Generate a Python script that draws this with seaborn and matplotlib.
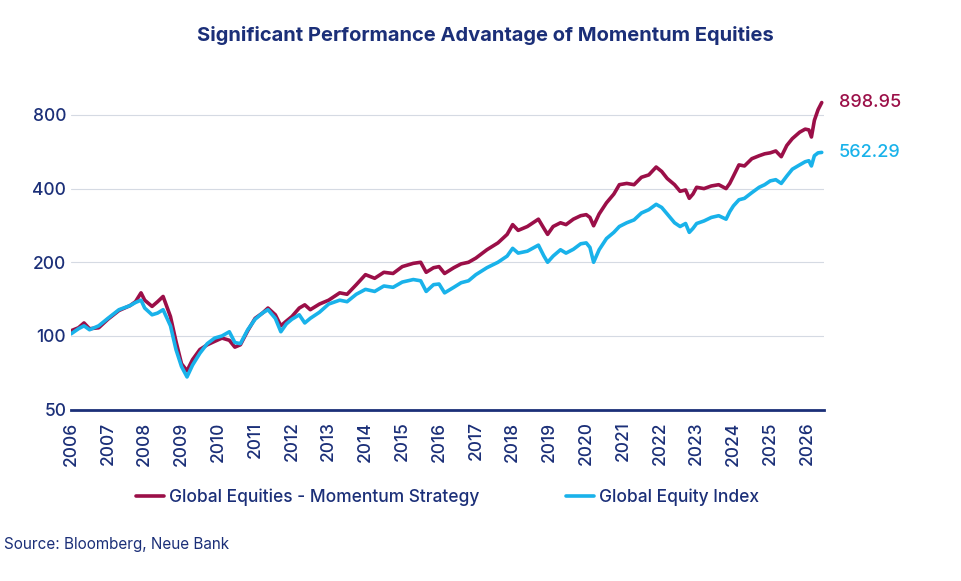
import pandas as pd
import numpy as np
import matplotlib.pyplot as plt
from matplotlib.ticker import FixedLocator, NullLocator, FuncFormatter
import seaborn as sns


def plot_momentum_performance(output_path='out.png'):
    """
    Plot the indexed performance of momentum equities versus the global equity index
    Log scale y-axis, yearly x ticks, end values annotated at the right edge
    """
    sns.set_style('white')
    plt.rcParams['font.family'] = ['Inter', 'DejaVu Sans']

    navy = '#1B2F78'
    red = '#9B0F48'
    blue = '#19B2EA'

    # Approximate values (year, momentum, index)
    points = [
        (2006.0, 105, 102), (2006.2, 108, 107), (2006.35, 113, 110), (2006.5, 107, 106),
        (2006.75, 108, 110), (2007.0, 117, 118), (2007.3, 127, 128), (2007.6, 133, 133),
        (2007.75, 138, 137), (2007.9, 150, 140), (2008.0, 140, 130), (2008.2, 132, 122),
        (2008.35, 138, 124), (2008.5, 145, 128), (2008.7, 120, 110), (2008.85, 95, 88),
        (2009.0, 77, 75), (2009.15, 72, 68), (2009.3, 80, 76), (2009.5, 88, 85),
        (2009.7, 92, 93), (2009.9, 95, 98), (2010.1, 98, 100), (2010.3, 96, 104),
        (2010.45, 90, 94), (2010.6, 92, 93), (2010.8, 105, 106), (2011.0, 118, 117),
        (2011.2, 124, 124), (2011.35, 130, 128), (2011.55, 122, 118), (2011.7, 110, 104),
        (2011.85, 115, 112), (2012.0, 120, 117), (2012.2, 130, 122), (2012.35, 134, 113),
        (2012.5, 128, 118), (2012.75, 135, 125), (2013.0, 140, 135), (2013.3, 150, 140),
        (2013.5, 148, 138), (2013.75, 162, 148), (2014.0, 178, 155), (2014.25, 172, 152),
        (2014.5, 182, 160), (2014.75, 180, 158), (2015.0, 192, 166), (2015.3, 198, 170),
        (2015.5, 200, 168), (2015.65, 182, 152), (2015.85, 190, 162), (2016.0, 192, 163),
        (2016.15, 180, 150), (2016.4, 190, 158), (2016.6, 197, 165), (2016.8, 200, 168),
        (2017.0, 208, 178), (2017.3, 225, 190), (2017.6, 240, 200), (2017.85, 260, 212),
        (2018.0, 285, 228), (2018.15, 270, 218), (2018.4, 280, 222), (2018.7, 300, 235),
        (2018.85, 275, 212), (2018.95, 260, 200), (2019.1, 280, 212), (2019.3, 290, 225),
        (2019.45, 285, 218), (2019.65, 300, 226), (2019.85, 310, 238), (2020.0, 313, 240),
        (2020.1, 305, 230), (2020.2, 282, 200), (2020.35, 315, 225), (2020.55, 350, 250),
        (2020.75, 380, 265), (2020.9, 415, 280), (2021.1, 420, 290), (2021.3, 415, 298),
        (2021.5, 445, 318), (2021.7, 455, 328), (2021.9, 490, 345), (2022.05, 470, 335),
        (2022.2, 440, 315), (2022.4, 415, 290), (2022.55, 390, 280), (2022.7, 395, 288),
        (2022.8, 365, 265), (2022.9, 380, 275), (2023.0, 405, 288), (2023.2, 400, 295),
        (2023.4, 410, 305), (2023.6, 415, 310), (2023.8, 400, 300), (2023.9, 420, 322),
        (2024.0, 450, 340), (2024.15, 500, 360), (2024.3, 495, 365), (2024.5, 530, 385),
        (2024.7, 545, 405), (2024.85, 555, 415), (2025.0, 560, 430), (2025.15, 570, 435),
        (2025.3, 540, 420), (2025.45, 600, 450), (2025.6, 640, 480), (2025.8, 680, 500),
        (2025.95, 700, 515), (2026.05, 695, 520), (2026.12, 650, 495), (2026.2, 760, 545),
        (2026.3, 840, 560), (2026.4, 898.95, 562.29),
    ]
    df = pd.DataFrame(points, columns=['Year', 'Momentum', 'Index'])

    fig, ax = plt.subplots(figsize=(9.61, 5.81), dpi=100)
    fig.subplots_adjust(left=0.074, right=0.857, top=0.843, bottom=0.295)

    sns.lineplot(data=df, x='Year', y='Momentum', ax=ax, color=red, lw=2.6,
                 label='Global Equities - Momentum Strategy')
    sns.lineplot(data=df, x='Year', y='Index', ax=ax, color=blue, lw=2.6,
                 label='Global Equity Index')

    ax.set_yscale('log')
    ax.set_ylim(50, 1000)
    ax.yaxis.set_major_locator(FixedLocator([50, 100, 200, 400, 800]))
    ax.yaxis.set_minor_locator(NullLocator())
    ax.yaxis.set_major_formatter(FuncFormatter(lambda v, p: f'{v:.0f}'))
    ax.set_xlim(2006, 2026.45)
    ax.set_xticks(range(2006, 2027))
    ax.tick_params(axis='x', rotation=90, colors=navy, labelsize=12.5, length=5, width=1.5, direction='out')
    ax.tick_params(axis='y', colors=navy, labelsize=12.5, length=0)
    for lbl in ax.get_xticklabels() + ax.get_yticklabels():
        lbl.set_fontweight('medium')
    ax.grid(axis='y', color='#D5DAE3', lw=0.8)
    ax.set_xlabel('')
    ax.set_ylabel('')
    for s in ['top', 'right', 'left']:
        ax.spines[s].set_visible(False)
    ax.spines['bottom'].set_color(navy)
    ax.spines['bottom'].set_linewidth(2)

    # End value labels
    ax.text(1.02, 898.95, '898.95', transform=ax.get_yaxis_transform(), color=red,
            fontsize=13, va='center', fontweight='medium')
    ax.text(1.02, 562.29, '562.29', transform=ax.get_yaxis_transform(), color=blue,
            fontsize=13, va='center', fontweight='medium')

    ax.set_title('Significant Performance Advantage of Momentum Equities', color=navy,
                 fontsize=14.5, fontweight='bold', pad=36, x=0.55)
    leg = ax.legend(loc='upper center', bbox_to_anchor=(0.5, -0.2), ncol=2, frameon=False,
                    fontsize=12.5, handlelength=1.6, handletextpad=0.3, columnspacing=5)
    for t in leg.get_texts():
        t.set_color(navy)
        t.set_fontweight('medium')
    fig.text(0.004, 0.055, 'Source: Bloomberg, Neue Bank', color=navy, fontsize=11)

    plt.savefig(output_path, dpi=100)


# Main program
if __name__ == "__main__":
    plot_momentum_performance('out.png')
